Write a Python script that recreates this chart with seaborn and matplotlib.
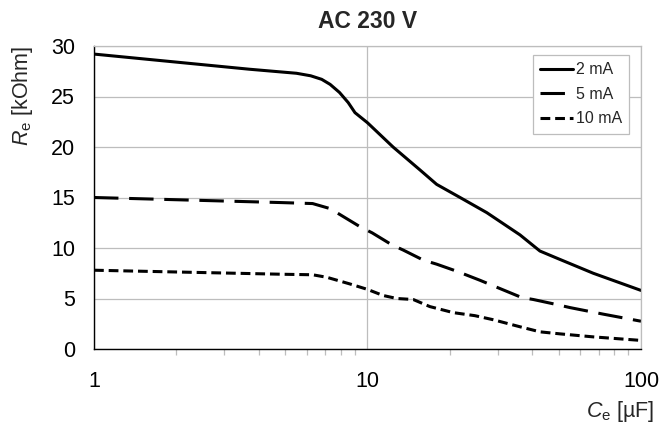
import matplotlib
matplotlib.use("Agg")
import matplotlib.pyplot as plt
import seaborn as sns
import numpy as np
import pandas as pd
from matplotlib.ticker import FixedLocator, LogLocator, NullFormatter

# ---- data ----
series_labels = ["2 mA", "5 mA", "10 mA"]

x_2mA = [1, 3.7, 5.5, 6.2, 6.8, 7.3, 7.9, 8.5, 9.0, 10, 12.4, 15.6, 17.9, 21.8, 27.3, 36.1, 42.7, 49.2, 66.9, 100]
y_2mA = [29.2, 27.7, 27.3, 27.05, 26.7, 26.2, 25.4, 24.4, 23.4, 22.4, 20.0, 17.7, 16.3, 15.0, 13.5, 11.3, 9.7, 9.0, 7.5, 5.8]

x_5mA = [1, 4.8, 6.3, 7.3, 9.4, 10.4, 12.3, 13.5, 16, 17.9, 21.2, 25.8, 28, 36.6, 40.4, 49.2, 55, 72.8, 100]
y_5mA = [15.0, 14.5, 14.4, 13.9, 12.1, 11.5, 10.3, 9.8, 8.8, 8.4, 7.7, 6.8, 6.4, 5.1, 4.9, 4.4, 4.1, 3.45, 2.75]

x_10mA = [1, 4.9, 6.3, 7.1, 8.6, 10, 11.4, 12.8, 14.7, 16.9, 20.6, 24.7, 28.8, 36.1, 42.7, 50.5, 66.9, 100]
y_10mA = [7.8, 7.4, 7.35, 7.1, 6.45, 5.9, 5.3, 5.0, 4.9, 4.2, 3.6, 3.3, 2.9, 2.2, 1.7, 1.5, 1.2, 0.85]

y_ticks = [0, 5, 10, 15, 20, 25, 30]
x_ticks = [1, 10, 100]
x_tick_labels = ["1", "10", "100"]

title = "AC 230 V"
ylabel = r"$\mathit{R}_{\mathrm{e}}$ [kOhm]"
xlabel = r"$\mathit{C}_{\mathrm{e}}$ [µF]"

# ---- style ----
sns.set_style("white")
plt.rcParams["font.family"] = ["Liberation Sans", "DejaVu Sans"]
plt.rcParams["mathtext.fontset"] = "custom"
plt.rcParams["mathtext.rm"] = "Liberation Sans"
plt.rcParams["mathtext.it"] = "Liberation Sans:italic"
plt.rcParams["mathtext.bf"] = "Liberation Sans:bold"

frames = []
for lab, xs, ys in zip(series_labels, [x_2mA, x_5mA, x_10mA], [y_2mA, y_5mA, y_10mA]):
    frames.append(pd.DataFrame({"C": xs, "R": ys, "series": lab}))
df = pd.concat(frames, ignore_index=True)

fig = plt.figure(figsize=(6.63, 4.26), dpi=100)
ax = fig.add_axes([94 / 663, 1 - 349 / 426, (641 - 94) / 663, (349 - 46) / 426])

dash_styles = {"2 mA": "", "5 mA": (8, 3.5), "10 mA": (3.2, 1.6)}
sns.lineplot(data=df, x="C", y="R", hue="series", style="series",
             palette=["black"] * 3, dashes=dash_styles, linewidth=2.2,
             ax=ax, sort=False, estimator=None)

ax.set_xscale("log")
ax.set_xlim(1, 100)
ax.set_ylim(0, 30)

ax.xaxis.set_major_locator(FixedLocator(x_ticks))
ax.set_xticklabels(x_tick_labels)
ax.xaxis.set_minor_locator(LogLocator(base=10, subs=np.arange(2, 10)))
ax.xaxis.set_minor_formatter(NullFormatter())
ax.set_yticks(y_ticks)
ax.set_yticklabels([str(v) for v in y_ticks])

gridc = "#bdbdbd"
ax.grid(True, which="major", color=gridc, linewidth=0.9)
ax.set_axisbelow(True)

for s in ["top", "right"]:
    ax.spines[s].set_color(gridc)
    ax.spines[s].set_linewidth(0.9)
for s in ["left", "bottom"]:
    ax.spines[s].set_color("black")
    ax.spines[s].set_linewidth(1.0)

ax.tick_params(axis="both", which="major", labelsize=15.5, colors=gridc,
               labelcolor="black", direction="out", length=4.5, width=0.9, pad=9)
ax.tick_params(axis="x", which="minor", colors=gridc, direction="out",
               length=4, width=0.9, bottom=True)
ax.tick_params(axis="x", which="major", pad=11)

ax.set_title(title, fontsize=16.5, fontweight="bold", pad=13)
ax.set_ylabel(ylabel, fontsize=15.5)
ax.yaxis.set_label_coords(-0.108, 0.835)
ax.set_xlabel(xlabel, fontsize=15.5)
ax.xaxis.set_label_coords(0.962, -0.165)

leg = ax.legend(loc="upper right", bbox_to_anchor=(0.978, 0.970), borderaxespad=0,
                fontsize=11.5, frameon=True, fancybox=False, shadow=False, framealpha=1,
                edgecolor=gridc, handlelength=2.1, handletextpad=0.15,
                borderpad=0.45, labelspacing=0.6, title=None)
leg.get_frame().set_linewidth(0.9)

fig.savefig("out.png", dpi=100)
